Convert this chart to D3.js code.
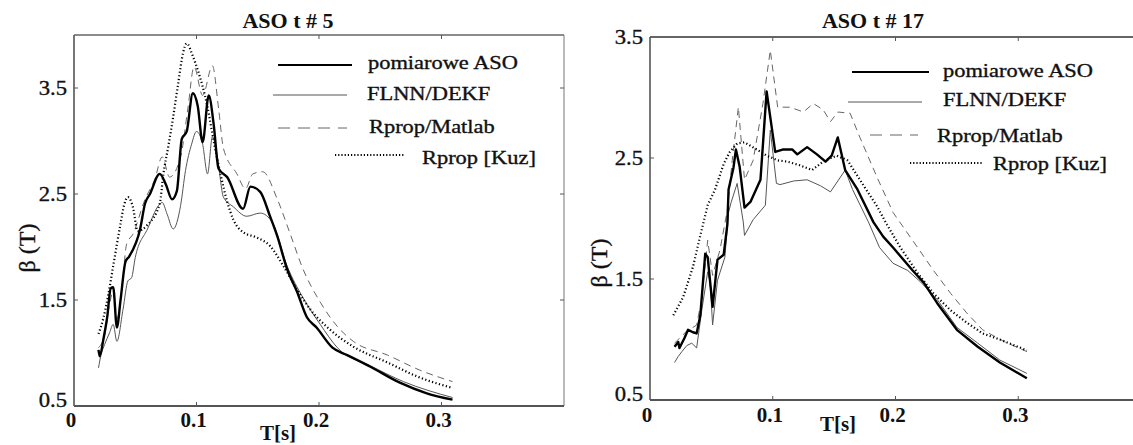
<!DOCTYPE html>
<html>
<head>
<meta charset="utf-8">
<script src="https://cdn.jsdelivr.net/npm/d3@7"></script>
<style>
  body { margin: 0; background: #fff; }
  text { font-family: "Liberation Serif", "Times New Roman", serif; fill: #111; }
  text.heavy { stroke: #111; stroke-width: 0.35px; }
</style>
</head>
<body>
<div id="chart"></div>
<script>
// ---- data: [T (s), beta] ----
var titles = ["ASO t # 5", "ASO t # 17"]
var legendLabels = ["pomiarowe ASO", "FLNN/DEKF", "Rprop/Matlab", "Rprop [Kuz]"]
var xTicks = [0, 0.1, 0.2, 0.3]
var yTicks = [0.5, 1.5, 2.5, 3.5]
var xTickLabels = ["0", "0.1", "0.2", "0.3"]
var yTickLabels = ["0.5", "1.5", "2.5", "3.5"]

var aso5Measured = [[0.020,1.03],[0.021,0.97],[0.024,1.13],[0.027,1.33],[0.030,1.61],[0.032,1.62],[0.035,1.24],[0.038,1.50],[0.042,1.86],[0.045,1.91],[0.054,2.17],[0.058,2.41],[0.062,2.50],[0.070,2.69],[0.075,2.59],[0.080,2.45],[0.084,2.53],[0.088,3.02],[0.092,3.09],[0.097,3.45],[0.101,3.33],[0.105,2.99],[0.110,3.43],[0.114,3.16],[0.118,2.74],[0.125,2.66],[0.138,2.36],[0.144,2.57],[0.152,2.52],[0.160,2.29],[0.166,2.10],[0.174,1.79],[0.182,1.58],[0.190,1.34],[0.198,1.24],[0.211,1.05],[0.223,0.98],[0.242,0.87],[0.266,0.72],[0.288,0.62],[0.309,0.56]]
var aso5Flnn = [[0.020,0.86],[0.022,0.98],[0.025,1.08],[0.029,1.19],[0.032,1.27],[0.035,1.11],[0.040,1.41],[0.044,1.68],[0.047,1.71],[0.050,1.90],[0.060,2.17],[0.069,2.39],[0.072,2.42],[0.076,2.31],[0.081,2.17],[0.087,2.39],[0.091,2.72],[0.096,2.97],[0.100,3.09],[0.105,2.97],[0.109,2.69],[0.113,3.04],[0.117,2.85],[0.122,2.47],[0.130,2.38],[0.141,2.29],[0.152,2.32],[0.162,2.23],[0.174,1.82],[0.187,1.52],[0.201,1.27],[0.215,1.05],[0.242,0.88],[0.269,0.73],[0.309,0.58]]
var aso5Rprop = [[0.020,1.05],[0.025,1.17],[0.029,1.46],[0.032,1.58],[0.035,1.32],[0.039,1.60],[0.043,2.03],[0.048,2.12],[0.058,2.45],[0.066,2.64],[0.072,2.85],[0.078,2.66],[0.087,2.85],[0.093,3.31],[0.098,3.70],[0.105,3.43],[0.113,3.71],[0.118,3.31],[0.122,2.93],[0.133,2.69],[0.140,2.55],[0.146,2.69],[0.154,2.71],[0.166,2.45],[0.176,2.14],[0.187,1.79],[0.201,1.48],[0.215,1.25],[0.228,1.11],[0.256,0.98],[0.282,0.84],[0.309,0.73]]
var aso5Kuz = [[0.020,1.18],[0.024,1.33],[0.028,1.55],[0.032,1.82],[0.038,2.22],[0.041,2.40],[0.044,2.47],[0.048,2.38],[0.052,2.15],[0.060,2.21],[0.070,2.41],[0.073,2.69],[0.077,2.95],[0.081,3.23],[0.085,3.54],[0.089,3.83],[0.092,3.92],[0.097,3.80],[0.101,3.67],[0.109,3.32],[0.114,3.00],[0.119,2.72],[0.125,2.43],[0.130,2.26],[0.138,2.14],[0.149,2.09],[0.160,2.01],[0.171,1.82],[0.182,1.60],[0.193,1.41],[0.209,1.22],[0.228,1.06],[0.256,0.91],[0.282,0.77],[0.309,0.67]]

var aso17Measured = [[0.020,0.94],[0.023,0.98],[0.024,0.93],[0.028,1.01],[0.031,1.08],[0.035,1.06],[0.038,1.05],[0.041,1.20],[0.045,1.71],[0.047,1.68],[0.051,1.27],[0.055,1.66],[0.060,1.70],[0.063,1.95],[0.064,2.24],[0.068,2.42],[0.070,2.57],[0.073,2.43],[0.077,2.09],[0.082,2.14],[0.090,2.32],[0.095,3.05],[0.102,2.55],[0.108,2.57],[0.116,2.57],[0.120,2.53],[0.128,2.59],[0.136,2.53],[0.143,2.47],[0.148,2.52],[0.153,2.67],[0.159,2.40],[0.169,2.24],[0.182,1.97],[0.190,1.85],[0.198,1.76],[0.214,1.57],[0.223,1.47],[0.234,1.30],[0.250,1.08],[0.267,0.94],[0.285,0.81],[0.307,0.68]]
var aso17Flnn = [[0.020,0.81],[0.023,0.86],[0.026,0.90],[0.030,0.95],[0.034,0.97],[0.038,0.93],[0.042,1.23],[0.047,1.56],[0.049,1.47],[0.051,1.12],[0.055,1.49],[0.061,1.68],[0.064,2.05],[0.066,2.13],[0.071,2.29],[0.076,1.97],[0.077,1.86],[0.084,1.99],[0.094,2.11],[0.098,2.73],[0.103,2.29],[0.106,2.28],[0.117,2.31],[0.128,2.32],[0.139,2.27],[0.147,2.22],[0.159,2.40],[0.165,2.24],[0.178,1.97],[0.187,1.76],[0.198,1.63],[0.210,1.57],[0.220,1.48],[0.234,1.33],[0.250,1.10],[0.267,0.97],[0.285,0.83],[0.307,0.72]]
var aso17Rprop = [[0.020,0.97],[0.029,1.06],[0.038,1.12],[0.042,1.33],[0.047,1.82],[0.051,1.53],[0.057,1.74],[0.063,2.07],[0.067,2.48],[0.072,2.92],[0.077,2.32],[0.084,2.48],[0.092,2.95],[0.098,3.39],[0.104,2.92],[0.114,2.92],[0.125,2.88],[0.133,2.95],[0.141,2.90],[0.147,2.80],[0.153,2.88],[0.163,2.87],[0.171,2.67],[0.185,2.34],[0.198,2.05],[0.218,1.76],[0.231,1.57],[0.245,1.38],[0.258,1.22],[0.271,1.08],[0.289,0.98],[0.307,0.90]]
var aso17Kuz = [[0.019,1.20],[0.027,1.35],[0.035,1.60],[0.041,1.86],[0.047,2.11],[0.053,2.24],[0.060,2.45],[0.065,2.55],[0.071,2.62],[0.077,2.63],[0.087,2.57],[0.095,2.52],[0.104,2.48],[0.112,2.47],[0.122,2.44],[0.132,2.40],[0.141,2.47],[0.152,2.52],[0.161,2.48],[0.171,2.32],[0.185,2.10],[0.193,1.95],[0.204,1.76],[0.218,1.55],[0.231,1.38],[0.245,1.24],[0.258,1.14],[0.271,1.05],[0.285,1.00],[0.307,0.91]]

// ---- drawing ----
var W = 1133, H = 445;

var svg = d3.select("#chart").append("svg")
  .attr("width", W).attr("height", H);

var styles = [
  { stroke: "#000", width: 2.4, dash: null },
  { stroke: "#555", width: 1, dash: null },
  { stroke: "#666", width: 1, dash: "7,5" },
  { stroke: "#000", width: 2.2, dash: "1.2,2.4" }
];

var panels = [
  {
    title: titles[0], series: [aso5Measured, aso5Flnn, aso5Rprop, aso5Kuz],
    left: 74, right: 564, top: 35, bottom: 406, yMax: 4.0, xMax: 0.4,
    curve: d3.curveMonotoneX, titleX: 288, titleY: 28, topW: 1.4,
    xLabY: 427, xTitle: [278, 440], yTitle: [27, 248],
    legend: [
      { x1: 278, x2: 352, y: 65, tx: 368, ty: 69 },
      { x1: 273, x2: 347, y: 95, tx: 367, ty: 100 },
      { x1: 278, x2: 347, y: 128, tx: 369, ty: 133 },
      { x1: 335, x2: 405, y: 155, tx: 422, ty: 164 }
    ]
  },
  {
    title: titles[1], series: [aso17Measured, aso17Flnn, aso17Rprop, aso17Kuz],
    left: 650, right: 1141, top: 37, bottom: 400, yMax: 3.5, xMax: 0.4,
    curve: d3.curveLinear, titleX: 873, titleY: 28, topW: 2.2,
    xLabY: 422, xTitle: [838, 431], yTitle: [599, 263],
    legend: [
      { x1: 852, x2: 929, y: 72, tx: 943, ty: 77 },
      { x1: 848, x2: 922, y: 102, tx: 943, ty: 106 },
      { x1: 870, x2: 918, y: 135, tx: 937, ty: 142 },
      { x1: 910, x2: 982, y: 163, tx: 993, ty: 170 }
    ]
  }
];

panels.forEach(function(p) {
  var x = d3.scaleLinear().domain([0, p.xMax]).range([p.left, p.right]);
  var y = d3.scaleLinear().domain([0.5, p.yMax]).range([p.bottom, p.top]);
  var g = svg.append("g");

  // frame
  g.append("line").attr("x1", p.left).attr("x2", p.right).attr("y1", p.top).attr("y2", p.top)
    .attr("stroke", "#666").attr("stroke-width", p.topW);
  g.append("line").attr("x1", p.right).attr("x2", p.right).attr("y1", p.top).attr("y2", p.bottom)
    .attr("stroke", "#777").attr("stroke-width", 1);
  g.append("line").attr("x1", p.left).attr("x2", p.right).attr("y1", p.bottom).attr("y2", p.bottom)
    .attr("stroke", "#555").attr("stroke-width", 1.8);
  g.append("line").attr("x1", p.left).attr("x2", p.left).attr("y1", p.top).attr("y2", p.bottom)
    .attr("stroke", "#555").attr("stroke-width", 1.6);

  // inward ticks
  xTicks.slice(1).forEach(function(t) {
    g.append("line").attr("x1", x(t)).attr("x2", x(t)).attr("y1", p.bottom).attr("y2", p.bottom - 4)
      .attr("stroke", "#555");
    g.append("line").attr("x1", x(t)).attr("x2", x(t)).attr("y1", p.top).attr("y2", p.top + 4)
      .attr("stroke", "#555");
  });
  yTicks.forEach(function(v) {
    if (y(v) <= p.top + 1 || y(v) >= p.bottom - 1) return;
    g.append("line").attr("x1", p.left).attr("x2", p.left + 4).attr("y1", y(v)).attr("y2", y(v))
      .attr("stroke", "#555");
    g.append("line").attr("x1", p.right).attr("x2", p.right - 4).attr("y1", y(v)).attr("y2", y(v))
      .attr("stroke", "#555");
  });

  // tick labels
  xTicks.forEach(function(t, i) {
    g.append("text").attr("x", x(t) - 3).attr("y", p.xLabY)
      .attr("text-anchor", "middle").attr("font-size", 21).attr("font-weight", "bold")
      .text(xTickLabels[i]);
  });
  yTicks.forEach(function(v, i) {
    var yy = Math.min(y(v), p.bottom - 6);
    g.append("text").attr("class", "heavy")
      .attr("x", p.left - 7).attr("y", yy).attr("dy", "0.35em")
      .attr("text-anchor", "end").attr("font-size", 21)
      .attr("transform", "translate(" + (p.left - 7) * -0.08 + ",0) scale(1.08,1)")
      .text(yTickLabels[i]);
  });

  // axis titles
  g.append("text").attr("x", p.xTitle[0]).attr("y", p.xTitle[1])
    .attr("text-anchor", "middle").attr("font-size", 21).attr("font-weight", "bold")
    .text("T[s]");
  g.append("text").attr("class", "heavy")
    .attr("transform", "translate(" + p.yTitle[0] + "," + p.yTitle[1] + ") rotate(-90)")
    .attr("text-anchor", "middle").attr("dy", "0.35em").attr("font-size", 24)
    .text("β (T)");

  // title
  g.append("text")
    .attr("transform", "translate(" + p.titleX + "," + p.titleY + ") scale(1.1,1)")
    .attr("text-anchor", "middle").attr("font-size", 20).attr("font-weight", "bold")
    .text(p.title);

  // curves
  var line = d3.line()
    .x(function(d) { return x(d[0]); })
    .y(function(d) { return y(d[1]); })
    .curve(p.curve);

  // thin ones first, measured on top
  var order = [1, 2, 3, 0];
  order.forEach(function(k) {
    var s = styles[k];
    g.append("path").datum(p.series[k])
      .attr("d", line)
      .attr("fill", "none")
      .attr("stroke", s.stroke)
      .attr("stroke-width", s.width)
      .attr("stroke-dasharray", s.dash)
      .attr("stroke-linejoin", "round");
  });

  // legend
  p.legend.forEach(function(l, k) {
    var s = styles[k];
    g.append("line").attr("x1", l.x1).attr("x2", l.x2).attr("y1", l.y).attr("y2", l.y)
      .attr("stroke", s.stroke).attr("stroke-width", k == 0 ? 2 : s.width)
      .attr("stroke-dasharray", k == 2 ? "12,8" : (k == 3 ? "1.2,2" : null));
    g.append("text").attr("class", "heavy")
      .attr("transform", "translate(" + l.tx + "," + l.ty + ") scale(1.18,1)")
      .attr("font-size", 19)
      .text(legendLabels[k]);
  });
});
</script>
</body>
</html>
